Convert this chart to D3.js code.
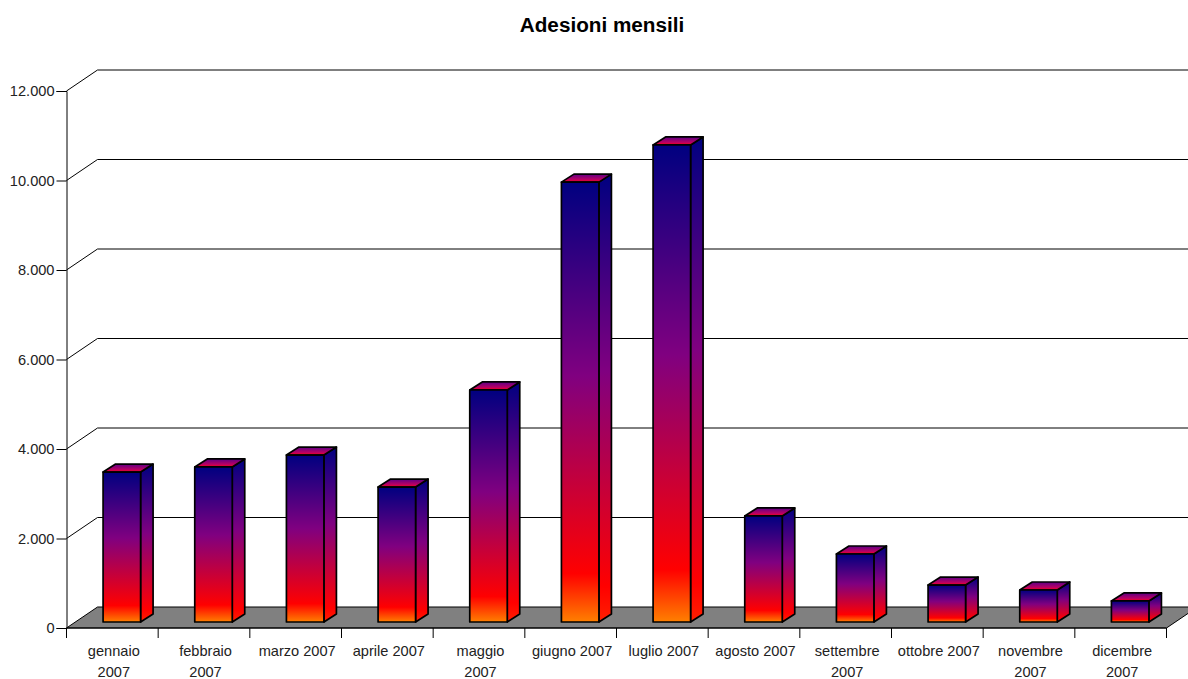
<!DOCTYPE html>
<html><head><meta charset="utf-8">
<script src="https://cdnjs.cloudflare.com/ajax/libs/d3/7.8.5/d3.min.js"></script>
<style>html,body{margin:0;background:#fff}svg{display:block}text{font-family:"Liberation Sans",Arial,sans-serif;fill:#222}</style>
</head><body><svg id="c" width="1188" height="679"></svg>
<script>
const categories=["gennaio\n2007","febbraio\n2007","marzo 2007","aprile 2007","maggio\n2007","giugno 2007","luglio 2007","agosto 2007","settembre\n2007","ottobre 2007","novembre\n2007","dicembre\n2007"];
const values=[3350,3465,3730,3015,5185,9830,10660,2370,1520,825,715,470];
const yTicks=[0,2000,4000,6000,8000,10000,12000];
const yTickLabels=["0","2.000","4.000","6.000","8.000","10.000","12.000"];
const title="Adesioni mensili";

const svg=d3.select("#c");
const x=d3.scaleBand().domain(categories).range([66.5,1166.5]);
const y=d3.scaleLinear().domain([0,12000]).range([628,91]);
const depthX=31,depthY=21, barDX=9.5,barDY=6, barW=37.5, capX=12.5,capY=8;

const defs=svg.append("defs");
function grad(id,stops){
  const g=defs.append("linearGradient").attr("id",id).attr("x1",0).attr("y1",0).attr("x2",0).attr("y2",1);
  stops.forEach(s=>g.append("stop").attr("offset",s[0]).attr("stop-color",s[1]));
}
grad("front",[[0,"#000080"],[0.44,"#800080"],[0.89,"#ff0000"],[1,"#ff8000"]]);
grad("side",[[0,"#000080"],[0.44,"#800080"],[0.92,"#ff0000"],[1,"#ff2000"]]);
grad("top",[[0,"#5c0088"],[0.72,"#c00060"],[1,"#ff0000"]]);

svg.append("text").attr("x",602).attr("y",32).attr("text-anchor","middle")
  .style("font-size","20.7px").style("font-weight","bold").style("fill","#000").text(title);

// floor
const x0=x.range()[0],x1=x.range()[1];
svg.append("polygon")
  .attr("points",[[x0,y(0)],[x1,y(0)],[x1+depthX,y(0)-depthY],[x0+depthX,y(0)-depthY]].map(p=>p.join(",")).join(" "))
  .attr("fill","#808080").attr("stroke","#000");

// wall grid
svg.append("g").selectAll("path").data(yTicks.slice(1)).join("path")
  .attr("d",d=>d3.line()([[x0,y(d)],[x0+depthX,y(d)-depthY],[x1+depthX,y(d)-depthY]]))
  .attr("fill","none").attr("stroke","#000").attr("stroke-width",1);

// axes
const fmt=d3.scaleOrdinal().domain(yTicks).range(yTickLabels);
const yAxis=d3.axisLeft(y).tickValues(yTicks).tickFormat(d=>fmt(d)).tickSize(10).tickPadding(2);
const gy=svg.append("g").attr("transform",`translate(${x0},0)`).call(yAxis);
gy.selectAll("text").style("font-size","14.6px");
gy.selectAll("line,path").attr("stroke","#000");

svg.append("line").attr("x1",x0).attr("x2",x1).attr("y1",y(0)).attr("y2",y(0)).attr("stroke","#000");
svg.append("g").selectAll("line").data(d3.range(categories.length+1)).join("line")
  .attr("x1",i=>x0+i*x.step()).attr("x2",i=>x0+i*x.step())
  .attr("y1",y(0)).attr("y2",y(0)+10).attr("stroke","#000");

// labels
const lab=svg.append("g").selectAll("text").data(categories).join("text")
  .attr("text-anchor","middle").style("font-size","14.6px")
  .attr("transform",d=>`translate(${x(d)+x.bandwidth()/2+1.5},0)`);
lab.selectAll("tspan").data(d=>d.split("\n")).join("tspan")
  .attr("x",0).attr("y",(d,i)=>655.5+i*21).text(d=>d);

// bars
const bars=svg.append("g").selectAll("g").data(categories.map((c,i)=>({c,v:values[i]}))).join("g")
  .attr("stroke","#000").attr("stroke-width",1.7).attr("stroke-linejoin","round");
const L=d=>x(d.c)+x.bandwidth()/2-barW/2+barDX, B=()=>y(0)-barDY, T=d=>y(d.v)-barDY;
const poly=a=>a.map(p=>p.join(",")).join(" ");
bars.append("polygon").attr("fill","url(#side)")
  .attr("points",d=>poly([[L(d)+barW,T(d)],[L(d)+barW+capX,T(d)-capY],[L(d)+barW+capX,B()-capY],[L(d)+barW,B()]]));
bars.append("polygon").attr("fill","url(#top)")
  .attr("points",d=>poly([[L(d),T(d)],[L(d)+capX,T(d)-capY],[L(d)+barW+capX,T(d)-capY],[L(d)+barW,T(d)]]));
bars.append("rect").attr("fill","url(#front)")
  .attr("x",L).attr("y",T).attr("width",barW).attr("height",d=>B()-T(d));
</script></body></html>
